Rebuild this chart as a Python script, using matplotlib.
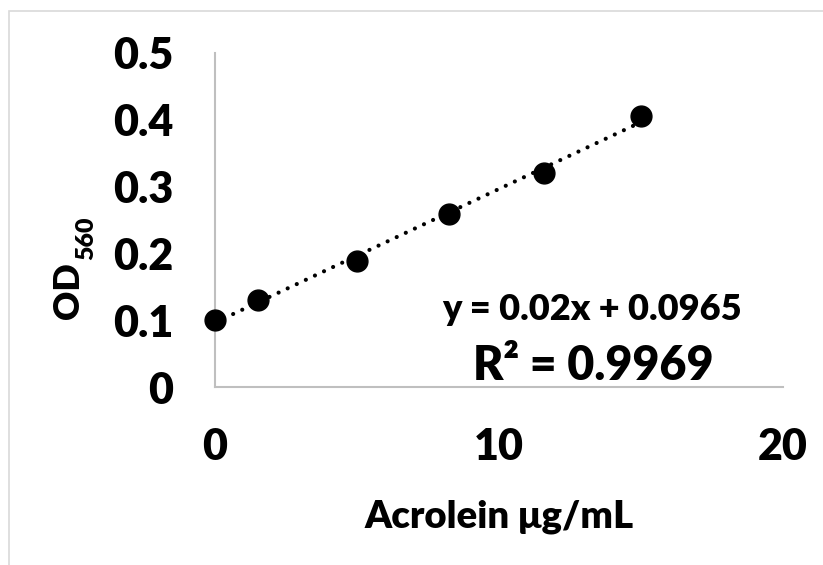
import matplotlib
matplotlib.use('Agg')
import matplotlib.pyplot as plt
from matplotlib.patches import Rectangle

# data
conc = [0, 1.5, 5, 8.25, 11.6, 15]
od = [0.1, 0.13, 0.189, 0.2585, 0.32, 0.405]
x_ticks = [0, 10, 20]
y_ticks = [0, 0.1, 0.2, 0.3, 0.4, 0.5]
y_tick_labels = ['0', '0.1', '0.2', '0.3', '0.4', '0.5']
slope = 0.02
intercept = 0.0965
r2 = 0.9969

W = 'heavy'
plt.rcParams['font.family'] = ['Lato', 'DejaVu Sans']
plt.rcParams['font.weight'] = W

fig = plt.figure(figsize=(8.23, 5.65), dpi=100)
ax = fig.add_axes([0.2612, 0.3150, 0.6902, 0.5912])

# light grey chart border (Excel style)
fig.patches.append(Rectangle((9 / 823, -0.1), 1.2, 1 - 11 / 565 + 0.1,
                             transform=fig.transFigure, fill=False,
                             edgecolor='#d9d9d9', linewidth=1.2))

# trendline
ax.plot([conc[0], conc[-1]], [slope * conc[0] + intercept, slope * conc[-1] + intercept],
        color='black', linewidth=3, linestyle=(0, (0.01, 2.4)),
        dash_capstyle='round', zorder=2)
ax.plot(conc, od, 'o', color='black', markersize=15, zorder=3, clip_on=False)

ax.set_xlim(0, 20)
ax.set_ylim(0, 0.5)
ax.set_xticks(x_ticks)
ax.set_yticks(y_ticks)
ax.set_yticklabels(y_tick_labels)
ax.tick_params(length=0, labelsize=31, pad=30)
ax.tick_params(axis='x', pad=29)
for lab in ax.get_xticklabels() + ax.get_yticklabels():
    lab.set_fontweight(W)

for s in ['top', 'right']:
    ax.spines[s].set_visible(False)
for s in ['left', 'bottom']:
    ax.spines[s].set_color('#bfbfbf')
    ax.spines[s].set_linewidth(1.5)

fig.text(499 / 823, 1 - 517 / 565, 'Acrolein \u03bcg/mL', ha='center', va='center',
         fontsize=27.5, fontweight=W)
# y label OD with subscript 560, drawn as two texts so both stay bold
fig.text(69 / 823, 1 - 291 / 565, 'OD', rotation=90, ha='center', va='center',
         fontsize=26, fontweight=W)
fig.text(86 / 823, 1 - 238 / 565, '560', rotation=90, ha='center', va='center',
         fontsize=18, fontweight=W)

ax.text(592 / 823, 1 - 310 / 565, 'y = 0.02x + 0.0965', transform=fig.transFigure,
        ha='center', va='center', fontsize=26, fontweight=W)
ax.text(593 / 823, 1 - 366 / 565, 'R\u00b2 = %.4f' % r2, transform=fig.transFigure,
        ha='center', va='center', fontsize=33.5, fontweight=W)

plt.savefig('out.png', dpi=100)
